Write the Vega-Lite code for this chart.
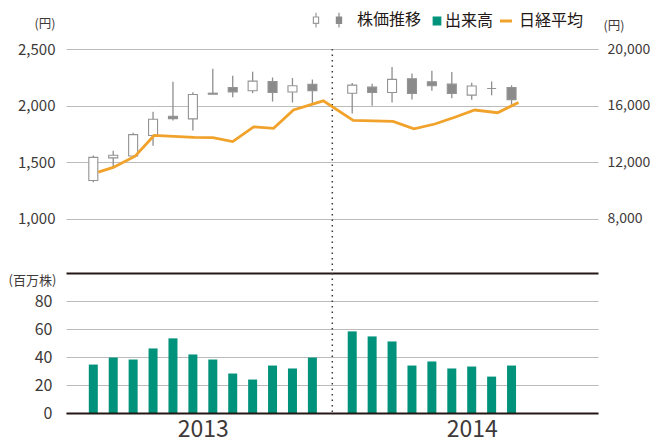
{
  "$schema": "https://vega.github.io/schema/vega-lite/v6.json",
  "padding": {"left": 8, "top": 12, "right": 0, "bottom": 0},
  "background": "white",
  "spacing": 0,
  "bounds": "flush",
  "config": {
    "font": "Noto Sans CJK JP",
    "view": {"stroke": null},
    "axis": {
      "labelColor": "#3e3a39",
      "titleColor": "#3e3a39",
      "labelFont": "Noto Sans CJK JP",
      "titleFont": "Noto Sans CJK JP",
      "titleFontWeight": "normal",
      "gridColor": "#bbbbbb",
      "gridWidth": 1.2,
      "domain": false,
      "ticks": false
    }
  },
  "datasets": {
    "candles": [
      {"t": 0, "open": 1337, "close": 1541, "high": 1558, "low": 1322, "dir": "up"},
      {"t": 1, "open": 1537, "close": 1560, "high": 1600, "low": 1455, "dir": "up"},
      {"t": 2, "open": 1553, "close": 1742, "high": 1760, "low": 1541, "dir": "up"},
      {"t": 3, "open": 1734, "close": 1879, "high": 1944, "low": 1645, "dir": "up"},
      {"t": 4, "open": 1905, "close": 1884, "high": 2210, "low": 1867, "dir": "down"},
      {"t": 5, "open": 1882, "close": 2098, "high": 2118, "low": 1778, "dir": "up"},
      {"t": 6, "open": 2109, "close": 2100, "high": 2325, "low": 2100, "dir": "down"},
      {"t": 7, "open": 2160, "close": 2121, "high": 2263, "low": 2074, "dir": "down"},
      {"t": 8, "open": 2130, "close": 2216, "high": 2299, "low": 2109, "dir": "up"},
      {"t": 9, "open": 2213, "close": 2115, "high": 2248, "low": 2035, "dir": "down"},
      {"t": 10, "open": 2119, "close": 2175, "high": 2243, "low": 2026, "dir": "up"},
      {"t": 11, "open": 2188, "close": 2132, "high": 2230, "low": 2022, "dir": "down"},
      {"t": 13, "open": 2109, "close": 2180, "high": 2200, "low": 1930, "dir": "up"},
      {"t": 14, "open": 2163, "close": 2115, "high": 2192, "low": 1997, "dir": "down"},
      {"t": 15, "open": 2115, "close": 2231, "high": 2340, "low": 2027, "dir": "up"},
      {"t": 16, "open": 2237, "close": 2106, "high": 2284, "low": 2053, "dir": "down"},
      {"t": 17, "open": 2210, "close": 2175, "high": 2308, "low": 2130, "dir": "down"},
      {"t": 18, "open": 2189, "close": 2106, "high": 2296, "low": 2065, "dir": "down"},
      {"t": 19, "open": 2092, "close": 2172, "high": 2201, "low": 2050, "dir": "up"},
      {"t": 20, "open": 2150, "close": 2150, "high": 2213, "low": 2090, "dir": "up"},
      {"t": 21, "open": 2159, "close": 2052, "high": 2179, "low": 2006, "dir": "down"}
    ],
    "nikkei": [
      {"t": 0.25, "nk": 11290, "series": "日経平均"},
      {"t": 1.0, "nk": 11620, "series": "日経平均"},
      {"t": 2.1, "nk": 12410, "series": "日経平均"},
      {"t": 3.05, "nk": 13880, "series": "日経平均"},
      {"t": 4.05, "nk": 13810, "series": "日経平均"},
      {"t": 5.05, "nk": 13740, "series": "日経平均"},
      {"t": 6.0, "nk": 13720, "series": "日経平均"},
      {"t": 7.0, "nk": 13450, "series": "日経平均"},
      {"t": 8.05, "nk": 14490, "series": "日経平均"},
      {"t": 9.05, "nk": 14380, "series": "日経平均"},
      {"t": 10.05, "nk": 15690, "series": "日経平均"},
      {"t": 11.55, "nk": 16330, "series": "日経平均"},
      {"t": 13.05, "nk": 14950, "series": "日経平均"},
      {"t": 14.05, "nk": 14910, "series": "日経平均"},
      {"t": 15.05, "nk": 14880, "series": "日経平均"},
      {"t": 16.1, "nk": 14350, "series": "日経平均"},
      {"t": 17.15, "nk": 14690, "series": "日経平均"},
      {"t": 18.15, "nk": 15170, "series": "日経平均"},
      {"t": 19.15, "nk": 15680, "series": "日経平均"},
      {"t": 20.3, "nk": 15490, "series": "日経平均"},
      {"t": 21.35, "nk": 16220, "series": "日経平均"}
    ],
    "volume": [
      {"t": 0, "vol": 34.6}, {"t": 1, "vol": 39.6}, {"t": 2, "vol": 38.2}, {"t": 3, "vol": 46.1},
      {"t": 4, "vol": 53.3}, {"t": 5, "vol": 41.8}, {"t": 6, "vol": 38.2}, {"t": 7, "vol": 28.2},
      {"t": 8, "vol": 23.9}, {"t": 9, "vol": 33.9}, {"t": 10, "vol": 31.8}, {"t": 11, "vol": 39.6},
      {"t": 13, "vol": 58.3}, {"t": 14, "vol": 54.7}, {"t": 15, "vol": 51.1}, {"t": 16, "vol": 33.9},
      {"t": 17, "vol": 36.8}, {"t": 18, "vol": 31.8}, {"t": 19, "vol": 33.2}, {"t": 20, "vol": 26.0},
      {"t": 21, "vol": 33.9}
    ]
  },
  "vconcat": [
    {
      "width": 532,
      "height": 224,
      "layer": [
        {
          "layer": [
            {
              "data": {"name": "candles"},
              "mark": {"type": "rule", "color": "#8e8e8e", "strokeWidth": 1.3},
              "encoding": {
                "x": {"field": "t", "type": "quantitative", "scale": {"domain": [-1.12, 25.09], "nice": false, "zero": false},
                  "axis": {"labels": false, "ticks": false, "grid": false, "domain": true, "domainColor": "#231815", "domainWidth": 2, "title": null, "zindex": 2}},
                "y": {"field": "low", "type": "quantitative", "scale": {"domain": [518, 2500], "nice": false, "zero": false},
                  "axis": {"orient": "left", "values": [1000, 1500, 2000, 2500], "format": ",d", "grid": true, "labelFontSize": 15, "labelPadding": 11,
                    "title": "(円)", "titleAngle": 0, "titleAlign": "right", "titleBaseline": "middle", "titleX": -11, "titleY": -26, "titleFontSize": 12.5}},
                "y2": {"field": "high"}
              }
            },
            {
              "data": {"name": "candles"},
              "mark": {"type": "bar", "size": 9, "stroke": "#939393", "strokeWidth": 1.1},
              "encoding": {
                "x": {"field": "t", "type": "quantitative"},
                "y": {"field": "open", "type": "quantitative"},
                "y2": {"field": "close"},
                "fill": {"field": "dir", "type": "nominal", "scale": {"domain": ["up", "down"], "range": ["#ffffff", "#8b8b8b"]}, "legend": null}
              }
            },
            {
              "data": {"values": [{}]},
              "mark": {"type": "rule", "strokeDash": [1.5, 4], "color": "#3e3a39", "strokeWidth": 1.5},
              "encoding": {"x": {"datum": 12}}
            }
          ]
        },
        {
          "data": {"name": "nikkei"},
          "mark": {"type": "line", "strokeWidth": 2.8, "strokeJoin": "miter"},
          "encoding": {
            "x": {"field": "t", "type": "quantitative"},
            "y": {"field": "nk", "type": "quantitative", "scale": {"domain": [4144, 20000], "nice": false, "zero": false},
              "axis": {"orient": "right", "values": [8000, 12000, 16000, 20000], "format": ",d", "grid": false, "labelFontSize": 14, "labelPadding": 9,
                "title": "(円)", "titleAngle": 0, "titleAlign": "left", "titleBaseline": "middle", "titleX": 5, "titleY": -24, "titleFontSize": 12.5}},
            "color": {
              "field": "series", "type": "nominal",
              "scale": {"domain": ["up", "株価推移", "出来高", "日経平均"], "range": ["#9a9a9a", "#8b8b8b", "#00927a", "#f0a22b"]},
              "legend": {
                "orient": "none", "legendX": 245, "legendY": -37, "direction": "horizontal", "title": null,
                "padding": 0, "columnPadding": 0, "labelOffset": 7, "labelFontSize": 16, "labelColor": "#231815", "labelFont": "Noto Sans CJK JP",
                "symbolSize": 196,
                "labelExpr": "datum.value === 'up' ? '' : (datum.value === '日経平均' ? datum.value : datum.value + '\u2002')",
                "encode": {
                  "symbols": {
                    "update": {
                      "shape": {"signal": "datum.value === '日経平均' ? 'M-0.57,0H1.15' : (datum.value === '出来高' ? 'M0.46,-0.56H1.54V0.56H0.46Z' : 'M-0.43,-1.05V-0.45M-0.43,0.45V1.05M-0.8,-0.45H-0.06V0.45H-0.8Z')"},
                      "fill": {"signal": "datum.value === 'up' ? '#ffffff' : (datum.value === '株価推移' ? '#8b8b8b' : (datum.value === '出来高' ? '#00927a' : 'transparent'))"},
                      "stroke": {"signal": "datum.value === 'up' ? '#9a9a9a' : (datum.value === '株価推移' ? '#8b8b8b' : (datum.value === '出来高' ? '#00927a' : '#f0a22b'))"},
                      "strokeWidth": {"signal": "datum.value === '日経平均' ? 3 : 1.2"},
                      "opacity": {"value": 1}
                    }
                  }
                }
              }
            }
          }
        }
      ],
      "resolve": {"scale": {"y": "independent"}}
    },
    {
      "width": 532,
      "height": 140,
      "layer": [
        {
          "data": {"name": "volume"},
          "mark": {"type": "bar", "size": 9, "color": "#00927a"},
          "encoding": {
            "x": {"field": "t", "type": "quantitative", "scale": {"domain": [-1.12, 25.09], "nice": false, "zero": false},
              "axis": {"values": [5.5, 19], "labelExpr": "datum.value < 10 ? '2013' : '2014'", "grid": false, "domain": true, "domainColor": "#231815", "domainWidth": 2,
                "labelFontSize": 23, "labelPadding": 5, "title": null, "zindex": 2}},
            "y": {"field": "vol", "type": "quantitative", "scale": {"domain": [0, 100], "nice": false},
              "axis": {"values": [0, 20, 40, 60, 80], "grid": true, "labelFontSize": 16, "labelPadding": 14,
                "title": "(百万株)", "titleAngle": 0, "titleAlign": "left", "titleBaseline": "middle", "titleX": -58, "titleY": 7, "titleFontSize": 13}}
          }
        },
        {
          "data": {"values": [{}]},
          "mark": {"type": "rule", "strokeDash": [1.5, 4], "color": "#3e3a39", "strokeWidth": 1.5},
          "encoding": {"x": {"datum": 12}}
        }
      ]
    }
  ]
}
